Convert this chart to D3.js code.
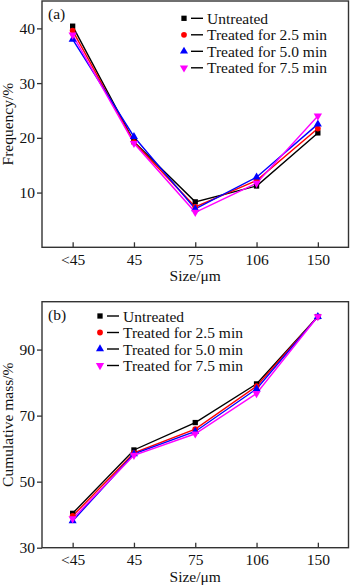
<!DOCTYPE html>
<html lang="en">
<head>
<meta charset="UTF-8">
<title>Frequency and cumulative mass vs size</title>
<script src="https://d3js.org/d3.v7.min.js"></script>
<style>
    body { margin: 0; background: #fff; }
    svg text { font-family: "Liberation Serif", "DejaVu Serif", serif; fill: #111; }
</style>
</head>
<body>
<div id="chart"></div>
<script>
    // categories and series
    const sizes = ["<45", "45", "75", "106", "150"];
    const seriesNames = ["Untreated", "Treated for 2.5 min", "Treated for 5.0 min", "Treated for 7.5 min"];

    // panel (a): frequency, %
    const freqUntreated = [40.4, 19.3, 8.3, 11.2, 20.9];
    const freq25 = [39.6, 19.2, 7.4, 12.2, 21.7];
    const freq50 = [38.0, 20.2, 7.0, 12.8, 22.5];
    const freq75 = [38.8, 19.0, 6.4, 11.7, 24.0];

    // panel (b): cumulative mass, %
    const cumUntreated = [40.4, 59.6, 67.9, 79.6, 100];
    const cum25 = [39.6, 58.7, 65.9, 78.9, 100];
    const cum50 = [38.1, 58.4, 65.2, 78.1, 100];
    const cum75 = [38.8, 58.0, 64.5, 76.7, 100];

    const freqTicks = [10, 20, 30, 40];
    const cumTicks = [30, 50, 70, 90];

    const colors = ["#000000", "#ff0000", "#0000ff", "#ff00ff"];
    const shapes = [d3.symbolSquare, d3.symbolCircle, d3.symbolTriangle, "down"];

    const FONT = "'Liberation Serif', 'DejaVu Serif', serif";

    const W = 350, H = 586;
    const svg = d3.select("#chart").append("svg")
        .attr("width", W).attr("height", H);

    const left = 42, right = 348.5;

    const x = d3.scalePoint()
        .domain(sizes)
        .range([left, right])
        .padding(0.5);

    function label(sel) {
        return sel.style("font-family", FONT).style("font-size", "15.5px").attr("fill", "#111");
    }

    function marker(g, i, cx, cy) {
        const s = shapes[i];
        if (s === "down") {
            g.append("path")
                .attr("d", d3.symbol(d3.symbolTriangle, 30)())
                .attr("transform", `translate(${cx},${cy}) rotate(180)`)
                .attr("fill", colors[i]);
        } else {
            g.append("path")
                .attr("d", d3.symbol(s, s === d3.symbolCircle ? 26 : 28)())
                .attr("transform", `translate(${cx},${cy})`)
                .attr("fill", colors[i]);
        }
    }

    function panel(opt) {
        const y = d3.scaleLinear().domain(opt.domain).range([opt.bottom, opt.top]);
        const g = svg.append("g");

        // lines
        const line = d3.line().x((d, i) => x(sizes[i])).y(d => y(d));
        opt.series.forEach((vals, i) => {
            g.append("path")
                .datum(vals)
                .attr("fill", "none")
                .attr("stroke", colors[i])
                .attr("stroke-width", 1.4)
                .attr("d", line);
        });
        opt.series.forEach((vals, i) => {
            vals.forEach((v, j) => marker(g, i, x(sizes[j]), y(v)));
        });

        // frame
        g.append("rect")
            .attr("x", left).attr("y", opt.top)
            .attr("width", right - left).attr("height", opt.bottom - opt.top)
            .attr("fill", "none").attr("stroke", "#333").attr("stroke-width", 1.4);

        // y axis (ticks outward)
        const ya = g.append("g")
            .attr("transform", `translate(${left},0)`)
            .call(d3.axisLeft(y).tickValues(opt.ticks).tickSize(5).tickPadding(2));
        ya.attr("font-family", null);
        ya.select(".domain").remove();
        ya.selectAll("line").attr("stroke", "#333").attr("stroke-width", 1.3);
        label(ya.selectAll("text"));

        // x axis (ticks inward)
        const xa = g.append("g")
            .attr("transform", `translate(0,${opt.bottom})`)
            .call(d3.axisBottom(x).tickSize(-5).tickPadding(0));
        xa.attr("font-family", null);
        xa.select(".domain").remove();
        xa.selectAll("line").attr("stroke", "#333").attr("stroke-width", 1.3);
        label(xa.selectAll("text"))
            .attr("y", opt.labelBase - opt.bottom).attr("dy", null);

        // titles
        label(g.append("text"))
            .attr("x", x("75")).attr("y", opt.titleBase)
            .attr("text-anchor", "middle")
            .text("Size/\u03bcm");
        label(g.append("text"))
            .attr("transform", `translate(13,${(opt.top + opt.bottom) / 2}) rotate(-90)`)
            .attr("text-anchor", "middle")
            .text(opt.ylabel);
        label(g.append("text"))
            .attr("x", 48).attr("y", opt.top + 18)
            .text(opt.tag);

        // legend
        const lg = g.append("g").attr("transform", `translate(${opt.legX},${opt.legY})`);
        seriesNames.forEach((name, i) => {
            const yy = i * 16.5;
            marker(lg, i, 0, yy);
            lg.append("line")
                .attr("x1", 7).attr("x2", 19).attr("y1", yy).attr("y2", yy)
                .attr("stroke", "#000").attr("stroke-width", 1.4);
            label(lg.append("text"))
                .attr("x", 23).attr("y", yy + 5.5)
                .text(name);
        });
    }

    panel({
        top: 1, bottom: 247.3, domain: [0, 45], ticks: freqTicks,
        series: [freqUntreated, freq25, freq50, freq75],
        ylabel: "Frequency/%", tag: "(a)",
        labelBase: 265.5, titleBase: 281,
        legX: 184, legY: 18.3
    });

    panel({
        top: 301.7, bottom: 547.7, domain: [30, 104.5], ticks: cumTicks,
        series: [cumUntreated, cum25, cum50, cum75],
        ylabel: "Cumulative mass/%", tag: "(b)",
        labelBase: 565.5, titleBase: 582,
        legX: 100, legY: 316
    });
</script>
</body>
</html>
